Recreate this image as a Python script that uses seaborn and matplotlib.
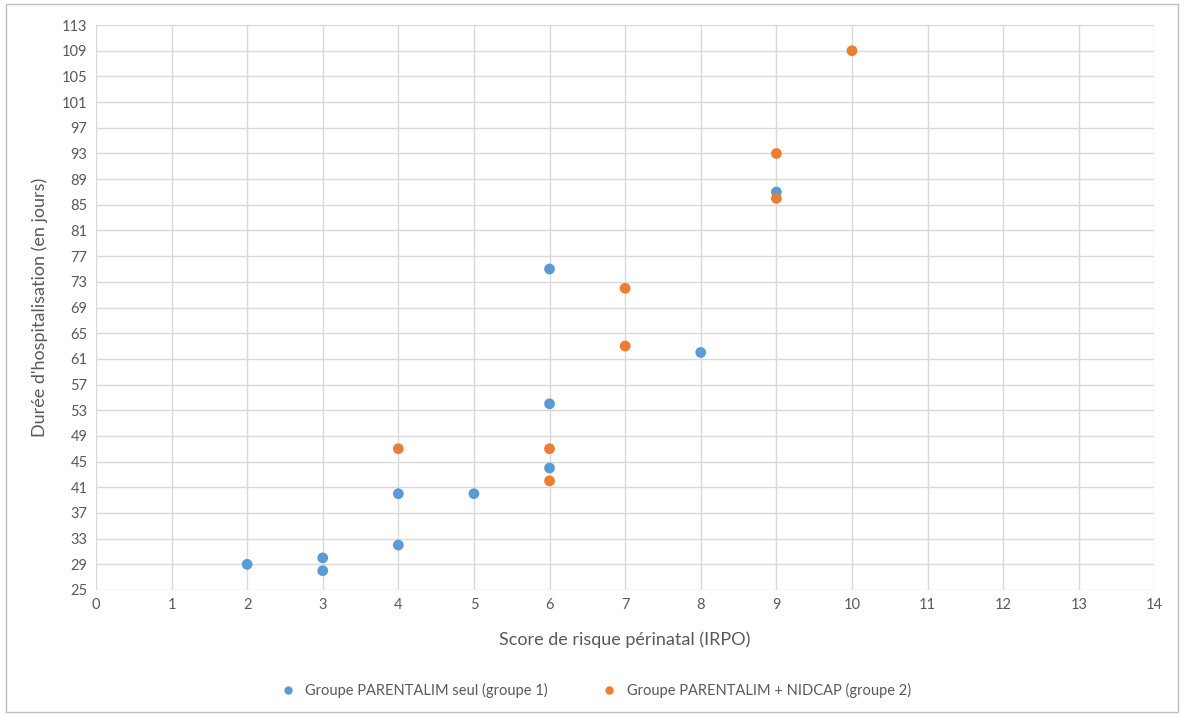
import matplotlib
matplotlib.use("Agg")
import matplotlib.pyplot as plt
import matplotlib.patches as mpatches
import pandas as pd
import seaborn as sns

# Données
score_g1 = [2, 3, 3, 4, 4, 5, 6, 6, 6, 8, 9]
duree_g1 = [29, 30, 28, 32, 40, 40, 44, 54, 75, 62, 87]
score_g2 = [4, 6, 6, 7, 7, 9, 9, 10]
duree_g2 = [47, 47, 42, 72, 63, 93, 86, 109]

label_g1 = "Groupe PARENTALIM seul (groupe 1)"
label_g2 = "Groupe PARENTALIM + NIDCAP (groupe 2)"

df = pd.concat([
    pd.DataFrame({"Score": score_g1, "Duree": duree_g1, "Groupe": label_g1}),
    pd.DataFrame({"Score": score_g2, "Duree": duree_g2, "Groupe": label_g2}),
], ignore_index=True)

sns.set_theme(style="white")
plt.rcParams["font.family"] = ["Lato", "DejaVu Sans"]

fig = plt.figure(figsize=(11.84, 7.16), dpi=100)
ax = fig.add_axes([0.081, 0.176, 0.894, 0.789])

sns.scatterplot(data=df, x="Score", y="Duree", hue="Groupe", ax=ax,
                palette={label_g1: "#5B9BD5", label_g2: "#ED7D31"},
                s=60, edgecolor="none", legend=False, zorder=3)

ax.set_xlim(0, 14)
ax.set_ylim(25, 113)
ax.set_xticks(range(0, 15))
ax.set_yticks(range(25, 114, 4))
ax.grid(True, color="#D9D9D9", linewidth=1)
ax.set_axisbelow(True)
for s in ax.spines.values():
    s.set_visible(False)
ax.tick_params(axis="both", length=0, labelsize=10.5, labelcolor="#595959", pad=6)

ax.set_xlabel("Score de risque périnatal (IRPO)", fontsize=13, color="#595959", labelpad=14)
ax.set_ylabel("Durée d'hospitalisation (en jours)", fontsize=13, color="#595959", labelpad=10)

# légende en bas, comme dans Excel
handles = [
    plt.Line2D([], [], marker="o", linestyle="", color="#5B9BD5", markersize=5, label=label_g1),
    plt.Line2D([], [], marker="o", linestyle="", color="#ED7D31", markersize=5, label=label_g2),
]
fig.legend(handles=handles, loc="center", bbox_to_anchor=(0.5, 0.035), ncol=2,
           frameon=False, fontsize=10.5, labelcolor="#595959",
           handletextpad=0.2, columnspacing=3.2)

fig.patches.append(mpatches.Rectangle((0.005, 0.005), 0.99, 0.99, transform=fig.transFigure,
                                      fill=False, edgecolor="#BFBFBF", linewidth=1))

fig.savefig("out.png", dpi=100)
